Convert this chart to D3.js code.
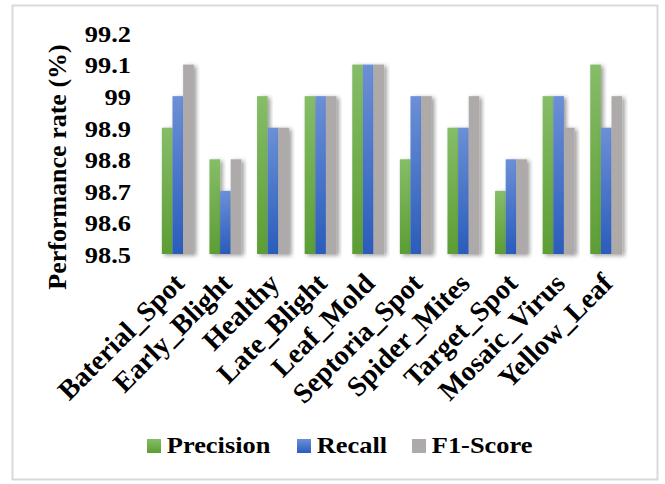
<!DOCTYPE html>
<html><head><meta charset="utf-8">
<script src="https://cdn.jsdelivr.net/npm/d3@7/dist/d3.min.js"></script>
<style>
html,body{margin:0;padding:0;background:#fff;}
svg{display:block;}
</style></head><body>
<script>
const categories = ["Baterial_Spot","Early_Blight","Healthy","Late_Blight","Leaf_Mold","Septoria_Spot","Spider_Mites","Target_Spot","Mosaic_Virus","Yellow_Leaf"];
const seriesNames = ["Precision","Recall","F1-Score"];
const precision = [98.9,98.8,99.0,99.0,99.1,98.8,98.9,98.7,99.0,99.1];
const recall    = [99.0,98.7,98.9,99.0,99.1,99.0,98.9,98.8,99.0,98.9];
const f1score   = [99.1,98.8,98.9,99.0,99.1,99.0,99.0,98.8,98.9,99.0];
const yTicks = [98.5,98.6,98.7,98.8,98.9,99.0,99.1,99.2];
const yTickLabels = ["98.5","98.6","98.7","98.8","98.9","99","99.1","99.2"];
const seriesValues = [precision, recall, f1score];
const colorsTop = ["#86bd68","#6c90d6","#aeaaaa"];
const colorsBot = ["#5c9d34","#2a5cbc","#aeaaaa"];

(function(){
const W=665,H=484;
const svg=d3.select("body").append("svg").attr("width",W).attr("height",H);
const defs=svg.append("defs");
seriesNames.forEach((s,i)=>{
  const g=defs.append("linearGradient").attr("id","g"+i).attr("x1",0).attr("y1",0).attr("x2",0).attr("y2",1);
  g.append("stop").attr("offset","0%").attr("stop-color",colorsTop[i]);
  g.append("stop").attr("offset","100%").attr("stop-color",colorsBot[i]);
});
const f=defs.append("filter").attr("id","sh").attr("x","-50%").attr("y","-10%").attr("width","200%").attr("height","120%");
f.append("feDropShadow").attr("dx",2.5).attr("dy",1.5).attr("stdDeviation",2).attr("flood-color","#000").attr("flood-opacity",0.4);
const fl=defs.append("filter").attr("id","shl").attr("x","-5%").attr("y","-200%").attr("width","110%").attr("height","500%");
fl.append("feDropShadow").attr("dx",0).attr("dy",1).attr("stdDeviation",0.8).attr("flood-color","#000").attr("flood-opacity",0.25);

function serif(sel,size){
  return sel.style("font-family",'"Liberation Serif"').style("font-weight","bold").style("font-size",size+"px").attr("fill","#000");
}

svg.append("rect").attr("x",12.5).attr("y",5.5).attr("width",645).attr("height",474).attr("fill","#fff").attr("stroke","#d9d9d9").attr("stroke-width",2);

const pLeft=154,pRight=630,pTop=33,pBottom=254;
const x0=d3.scaleBand().domain(categories).range([pLeft,pRight]).paddingInner(0.33).paddingOuter(0.165);
const x1=d3.scaleBand().domain(seriesNames).range([0,x0.bandwidth()]).padding(0);
const y=d3.scaleLinear().domain([98.5,99.2]).range([pBottom,pTop]);

svg.append("g").selectAll("line").data(yTicks.slice(1)).join("line")
  .attr("x1",pLeft).attr("x2",pRight).attr("y1",d=>y(d)).attr("y2",d=>y(d))
  .attr("stroke","#d9d9d9").attr("stroke-width",1.8).attr("filter","url(#shl)");

const groups=svg.append("g").selectAll("g").data(categories).join("g")
  .attr("transform",d=>`translate(${x0(d)},0)`);
groups.selectAll("rect").data((c,ci)=>seriesNames.map((s,si)=>({s,si,v:seriesValues[si][ci]}))).join("rect")
  .attr("x",d=>x1(d.s)).attr("width",x1.bandwidth())
  .attr("y",d=>y(d.v)).attr("height",d=>y(98.5)-y(d.v))
  .attr("fill",d=>`url(#g${d.si})`).attr("filter","url(#sh)");

svg.append("line").attr("x1",pLeft).attr("x2",pRight).attr("y1",y(98.5)).attr("y2",y(98.5))
  .attr("stroke","#c8c8c8").attr("stroke-width",2).attr("filter","url(#shl)");

const yAxis=d3.axisLeft(y).tickValues(yTicks).tickFormat((d,i)=>yTickLabels[i]).tickSize(0);
const ya=svg.append("g").attr("transform",`translate(131,0)`).call(yAxis);
ya.select(".domain").remove();
serif(ya.selectAll("text").attr("x",0).attr("dy","0.35em"),24).attr("transform","scale(1.1,1)");

serif(svg.append("text").attr("transform","translate(66,167) rotate(-90)").attr("text-anchor","middle"),26)
  .text("Performance rate (%)");

serif(svg.append("g").selectAll("text").data(categories).join("text")
  .attr("transform",d=>`translate(${x0(d)+x0.bandwidth()/2+8},${pBottom+31}) rotate(-45)`)
  .attr("text-anchor","end"),28).text(d=>d);

const legX=[147,297,412];
const lg=svg.append("g").selectAll("g").data(seriesNames).join("g")
  .attr("transform",(d,i)=>`translate(${legX[i]},439)`);
lg.append("rect").attr("width",14).attr("height",14).attr("fill",(d,i)=>`url(#g${i})`);
serif(lg.append("text").attr("x",18).attr("y",14),24)
  .attr("transform","scale(1.1,1)").text(d=>d);
})();
</script>
</body></html>
